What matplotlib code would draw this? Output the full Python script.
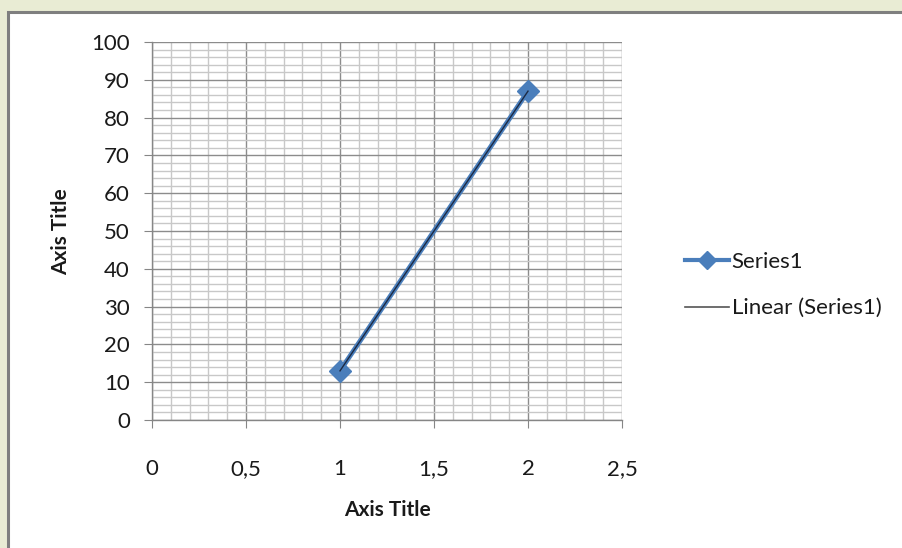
import numpy as np
import matplotlib
matplotlib.use("Agg")
import matplotlib.pyplot as plt
from matplotlib.patches import Rectangle
from matplotlib.lines import Line2D

plt.rcParams['font.family'] = ['Lato', 'DejaVu Sans']

# data
x_vals = [1, 2]
y_vals = [13, 87]
series_name = "Series1"
trend_name = "Linear (Series1)"
x_ticks = [0, 0.5, 1, 1.5, 2, 2.5]
x_ticklabels = ["0", "0,5", "1", "1,5", "2", "2,5"]
y_ticks = [0, 10, 20, 30, 40, 50, 60, 70, 80, 90, 100]

W, H = 902, 548
fig = plt.figure(figsize=(W / 100, H / 100), dpi=100, facecolor='#e9ecd4')

# white chart area with grey frame (drawn behind the axes)
fig.patches.append(Rectangle((8 / W, -0.05), 1.0, (H - 12) / H + 0.05,
                             transform=fig.transFigure, fc='white',
                             ec='#7f7f7f', lw=2.2, zorder=-10))

ax = fig.add_axes([152 / W, 1 - 420 / H, 470 / W, 378 / H])
ax.set_facecolor('none')

ax.set_xlim(0, 2.5)
ax.set_ylim(0, 100)
ax.set_xticks(x_ticks)
ax.set_xticklabels(x_ticklabels)
ax.set_yticks(y_ticks)
ax.set_xticks(np.arange(0, 2.51, 0.1), minor=True)
ax.set_yticks(np.arange(0, 100.1, 2), minor=True)

ax.grid(which='major', color='#8c8c8c', lw=1.0)
ax.grid(which='minor', color='#c8c8c8', lw=1.0)
ax.set_axisbelow(True)

for side in ['top', 'right']:
    ax.spines[side].set_visible(False)
for side in ['left', 'bottom']:
    ax.spines[side].set_color('#868686')
    ax.spines[side].set_linewidth(1.0)

ax.tick_params(which='major', length=6, color='#868686', labelsize=16,
               labelcolor='#1a1a1a')
ax.tick_params(which='minor', length=0)
ax.tick_params(axis='x', pad=22)
ax.tick_params(axis='y', pad=10)

# series and linear trendline
blue = '#4a7ebb'
ax.plot(x_vals, y_vals, color=blue, lw=3.5, marker='D', ms=11,
        mfc=blue, mec=blue, zorder=3, clip_on=False)
coef = np.polyfit(x_vals, y_vals, 1)
tx = np.array([min(x_vals), max(x_vals)])
ax.plot(tx, np.polyval(coef, tx), color='#1c2a44', lw=1.0, zorder=4)

fig.text(387 / W, 1 - 510 / H, "Axis Title", ha='center', va='center',
         fontsize=15, fontweight='bold', color='#1a1a1a')
fig.text(61 / W, 1 - 232 / H, "Axis Title", ha='center', va='center',
         rotation=90, fontsize=15, fontweight='bold', color='#1a1a1a')

handles = [
    Line2D([], [], color=blue, lw=3, marker='D', ms=9, mfc=blue, mec=blue),
    Line2D([], [], color='#555555', lw=1.2),
]
fig.legend(handles, [series_name, trend_name], loc='center left',
           bbox_to_anchor=(665 / W, 1 - 285 / H), frameon=False,
           fontsize=16, handlelength=2.0, handletextpad=0.1,
           labelspacing=1.2, labelcolor='#1a1a1a')

fig.savefig("out.png", dpi=100, facecolor=fig.get_facecolor())
